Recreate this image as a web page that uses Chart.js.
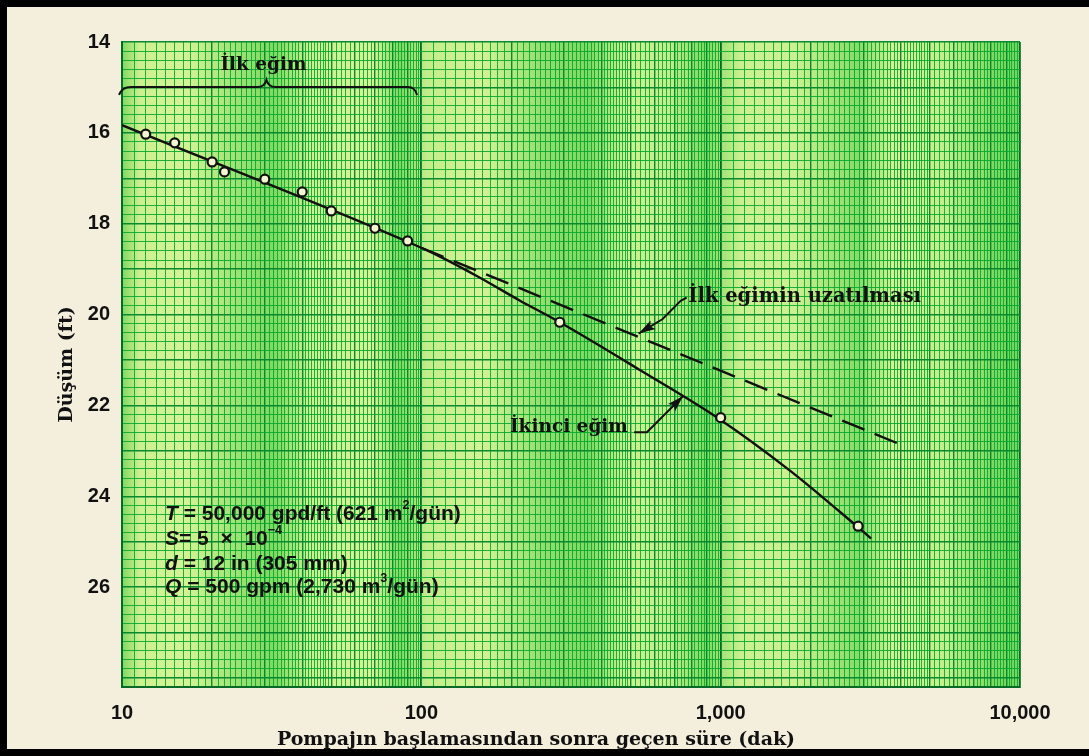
<!DOCTYPE html>
<html>
<head>
<meta charset="utf-8">
<script src="https://cdn.jsdelivr.net/npm/chart.js@4.4.1/dist/chart.umd.min.js"></script>
<style>
  html, body { margin: 0; padding: 0; background: #f4eedd; }
  canvas { display: block; }
</style>
</head>
<body>
<canvas id="c" width="1089" height="756"></canvas>
<script>
// Observed drawdown: time since pumping began (min) and drawdown (ft)
const obsTime     = [12, 15, 20, 22, 30, 40, 50, 70, 90, 290, 1000, 2880];
const obsDrawdown = [16.03, 16.22, 16.64, 16.86, 17.02, 17.30, 17.72, 18.10, 18.38, 20.17, 22.27, 24.66];

// Curve drawn through the observations
const curveTime     = [10, 88, 115, 157, 213, 290, 537, 975, 1700, 2850, 3180];
const curveDrawdown = [15.83, 18.37, 18.72, 19.19, 19.69, 20.17, 21.22, 22.27, 23.43, 24.66, 24.93];

// Straight-line extension of the first slope
const extTime     = [100, 4050];
const extDrawdown = [18.53, 22.88];

// Axis tick labels
const xTickValues = [10, 100, 1000, 10000];
const xTickText   = ['10', '100', '1,000', '10,000'];
const yTickValues = [14, 16, 18, 20, 22, 24, 26];
const yTickText   = ['14', '16', '18', '20', '22', '24', '26'];

const X_MIN = 10, X_MAX = 10000, Y_MIN = 14, Y_MAX = 28.2;

// Semi-log paper rulings
function logRulings() {
  const out = [];
  const subs = [[1, 2, 0.1], [2, 5, 0.1], [5, 10, 0.2]];
  for (let d = X_MIN; d < X_MAX; d *= 10) {
    for (const [a, b, s] of subs) {
      for (let m = a; m < b - 1e-9; m += s) out.push(parseFloat((m * d).toFixed(6)));
    }
  }
  out.push(X_MAX);
  return out;
}
function linRulings() {
  const out = [];
  for (let v = Y_MIN; v <= Y_MAX + 1e-9; v += 0.2) out.push(parseFloat(v.toFixed(4)));
  return out;
}
function xRank(v) {
  const d = Math.pow(10, Math.floor(Math.log10(v) + 1e-9));
  const m = v / d;
  if (Math.abs(m - 1) < 1e-6) return 2;
  if (Math.abs(m - Math.round(m)) < 1e-6) return 1;
  return 0;
}
function yRank(v) {
  if (Math.abs(v - Math.round(v)) < 1e-6) return 1;
  return 0;
}
const ruleColor = ['rgba(8,168,48,0.9)', '#07892e', '#056a25'];
const ruleWidth = [1, 1.4, 1.8];

const SERIF = '"DejaVu Serif", "Liberation Serif", serif';
const SANS = '"Liberation Sans", Arial, sans-serif';

function drawArrow(ctx, pts, head, wid) {
  ctx.beginPath();
  ctx.moveTo(pts[0][0], pts[0][1]);
  for (let i = 1; i < pts.length; i++) ctx.lineTo(pts[i][0], pts[i][1]);
  ctx.stroke();
  const [x1, y1] = pts[pts.length - 2], [x2, y2] = pts[pts.length - 1];
  const ang = Math.atan2(y2 - y1, x2 - x1);
  ctx.save();
  ctx.translate(x2, y2);
  ctx.rotate(ang);
  ctx.beginPath();
  ctx.moveTo(0, 0);
  ctx.lineTo(-head, -wid / 2);
  ctx.lineTo(-head * 0.8, 0);
  ctx.lineTo(-head, wid / 2);
  ctx.closePath();
  ctx.fill();
  ctx.restore();
}

function drawRuns(ctx, x, y, runs, size) {
  let cx = x;
  for (const r of runs) {
    const s = r.sup ? size * 0.6 : size;
    ctx.font = (r.it ? 'italic ' : '') + 'bold ' + s + 'px ' + SANS;
    ctx.fillText(r.t, cx, y + (r.sup ? -size * 0.4 : 0));
    cx += ctx.measureText(r.t).width;
  }
}

const paramLines = [
  [{t: 'T', it: true}, {t: ' = 50,000 gpd/ft (621 m'}, {t: '2', sup: true}, {t: '/gün)'}],
  [{t: 'S', it: true}, {t: '= 5  ×  10'}, {t: '−4', sup: true}],
  [{t: 'd', it: true}, {t: ' = 12 in (305 mm)'}],
  [{t: 'Q', it: true}, {t: ' = 500 gpm (2,730 m'}, {t: '3', sup: true}, {t: '/gün)'}]
];
const paramDrawdown = [24.4, 24.95, 25.5, 26.0];

const paperPlugin = {
  id: 'paper',
  beforeDraw(chart) {
    const {ctx, chartArea: a, width, height} = chart;
    ctx.save();
    ctx.fillStyle = '#f4eedd';
    ctx.fillRect(0, 0, width, height);
    ctx.fillStyle = '#000';
    ctx.fillRect(0, 0, width, 7);
    ctx.fillRect(0, 0, 7, height);
    ctx.fillRect(0, height - 7, width, 7);
    // ruled paper tint
    ctx.fillStyle = '#e9f9a2';
    ctx.fillRect(a.left, a.top, a.right - a.left, a.bottom - a.top);
    const g = ctx.createLinearGradient(a.left, 0, a.right, 0);
    const bands = [
      [0.00, 0.55], [0.02, 0.15], [0.07, 0.10], [0.13, 0.40], [0.17, 0.55], [0.21, 0.15],
      [0.28, 0.10], [0.31, 0.55], [0.34, 0.20], [0.40, 0.10], [0.47, 0.45], [0.52, 0.55],
      [0.56, 0.15], [0.61, 0.20], [0.65, 0.55], [0.69, 0.15], [0.75, 0.15],
      [0.82, 0.50], [0.86, 0.10], [0.92, 0.20], [0.97, 0.55], [1.00, 0.60]
    ];
    for (const [p, o] of bands) g.addColorStop(p, 'rgba(40,190,45,' + o + ')');
    ctx.fillStyle = g;
    ctx.fillRect(a.left, a.top, a.right - a.left, a.bottom - a.top);
    ctx.restore();
  },
  afterDraw(chart) {
    const {ctx} = chart;
    const xs = chart.scales.x, ys = chart.scales.y;
    const X = v => xs.getPixelForValue(v), Y = v => ys.getPixelForValue(v);
    ctx.save();
    ctx.fillStyle = '#111';
    ctx.strokeStyle = '#111';

    // brace over the first-slope interval
    const bx1 = X(10) + 1, bx2 = X(96), by = Y(14.99), bm = (bx1 + bx2) / 2 - 3;
    ctx.lineWidth = 2;
    ctx.beginPath();
    ctx.moveTo(bx1 - 4, by + 8);
    ctx.quadraticCurveTo(bx1 - 1, by, bx1 + 8, by);
    ctx.lineTo(bm - 9, by);
    ctx.quadraticCurveTo(bm - 2, by, bm, by - 7);
    ctx.quadraticCurveTo(bm + 2, by, bm + 9, by);
    ctx.lineTo(bx2 - 8, by);
    ctx.quadraticCurveTo(bx2 - 1, by, bx2 + 1, by + 8);
    ctx.stroke();

    ctx.font = 'bold 18.5px ' + SERIF;
    ctx.textBaseline = 'middle';
    ctx.textAlign = 'center';
    ctx.fillText('İlk eğim', bm - 3, Y(14.5));

    // label for the extended first slope
    ctx.textAlign = 'left';
    ctx.font = 'bold 19.5px ' + SERIF;
    ctx.fillText('İlk eğimin uzatılması', X(780), Y(19.62));
    ctx.lineWidth = 2;
    drawArrow(ctx, [[X(770), Y(19.63)], [X(735), Y(19.70)], [X(640), Y(20.10)], [X(532), Y(20.42)]], 17, 10);

    // label for the second slope
    ctx.font = 'bold 18.5px ' + SERIF;
    ctx.textAlign = 'right';
    ctx.fillText('İkinci eğim', X(490), Y(22.48));
    drawArrow(ctx, [[X(514), Y(22.59)], [X(567), Y(22.59)], [X(748), Y(21.80)]], 16, 10);

    // well and aquifer parameters
    ctx.textAlign = 'left';
    ctx.textBaseline = 'middle';
    paramLines.forEach((runs, i) => drawRuns(ctx, 165, Y(paramDrawdown[i]), runs, 21));

    // horizontal axis title
    ctx.font = 'bold 19px ' + SERIF;
    ctx.textAlign = 'center';
    ctx.fillText('Pompajın başlamasından sonra geçen süre (dak)', 536, 740);
    ctx.restore();
  }
};

new Chart(document.getElementById('c'), {
  type: 'scatter',
  data: {
    datasets: [
      {
        data: obsTime.map((t, i) => ({x: t, y: obsDrawdown[i]})),
        showLine: false,
        pointRadius: 4.5,
        pointBorderWidth: 2.2,
        pointBorderColor: '#111',
        pointBackgroundColor: '#f2f7d2'
      },
      {
        data: curveTime.map((t, i) => ({x: t, y: curveDrawdown[i]})),
        showLine: true,
        pointRadius: 0,
        borderColor: '#111',
        borderWidth: 2.4,
        cubicInterpolationMode: 'monotone'
      },
      {
        data: extTime.map((t, i) => ({x: t, y: extDrawdown[i]})),
        showLine: true,
        pointRadius: 0,
        borderColor: '#111',
        borderWidth: 2.4,
        borderDash: [24, 11]
      }
    ]
  },
  options: {
    responsive: false,
    devicePixelRatio: 1,
    animation: false,
    layout: {padding: {top: 42, right: 69, bottom: 0, left: 0}},
    plugins: {legend: {display: false}, tooltip: {enabled: false}},
    scales: {
      x: {
        type: 'logarithmic',
        min: X_MIN, max: X_MAX,
        afterBuildTicks: s => { s.ticks = logRulings().map(v => ({value: v})); },
        afterFit: s => { s.height = 69; },
        border: {display: true, color: '#056a25', width: 2},
        grid: {
          drawTicks: false,
          color: c => ruleColor[xRank(c.tick.value)],
          lineWidth: c => ruleWidth[xRank(c.tick.value)]
        },
        ticks: {
          autoSkip: false, maxRotation: 0, minRotation: 0, padding: 14,
          color: '#111',
          font: {family: SANS, size: 20, weight: 'bold'},
          callback: v => {
            const k = xTickValues.findIndex(t => Math.abs(t - v) < 1e-6);
            return k >= 0 ? xTickText[k] : '';
          }
        }
      },
      y: {
        type: 'linear',
        reverse: true,
        min: Y_MIN, max: Y_MAX,
        afterBuildTicks: s => { s.ticks = linRulings().map(v => ({value: v})); },
        afterFit: s => { s.width = 122; },
        border: {display: true, color: '#056a25', width: 2},
        grid: {
          drawTicks: false,
          color: c => ruleColor[yRank(c.tick.value)],
          lineWidth: c => ruleWidth[yRank(c.tick.value)]
        },
        title: {
          display: true,
          text: 'Düşüm (ft)',
          color: '#111',
          font: {family: SERIF, size: 19, weight: 'bold'},
          padding: {top: 56, bottom: 0}
        },
        ticks: {
          autoSkip: false, padding: 12,
          color: '#111',
          font: {family: SANS, size: 20, weight: 'bold'},
          callback: v => {
            const k = yTickValues.findIndex(t => Math.abs(t - v) < 1e-6);
            return k >= 0 ? yTickText[k] : '';
          }
        }
      }
    }
  },
  plugins: [paperPlugin]
});
</script>
</body>
</html>
